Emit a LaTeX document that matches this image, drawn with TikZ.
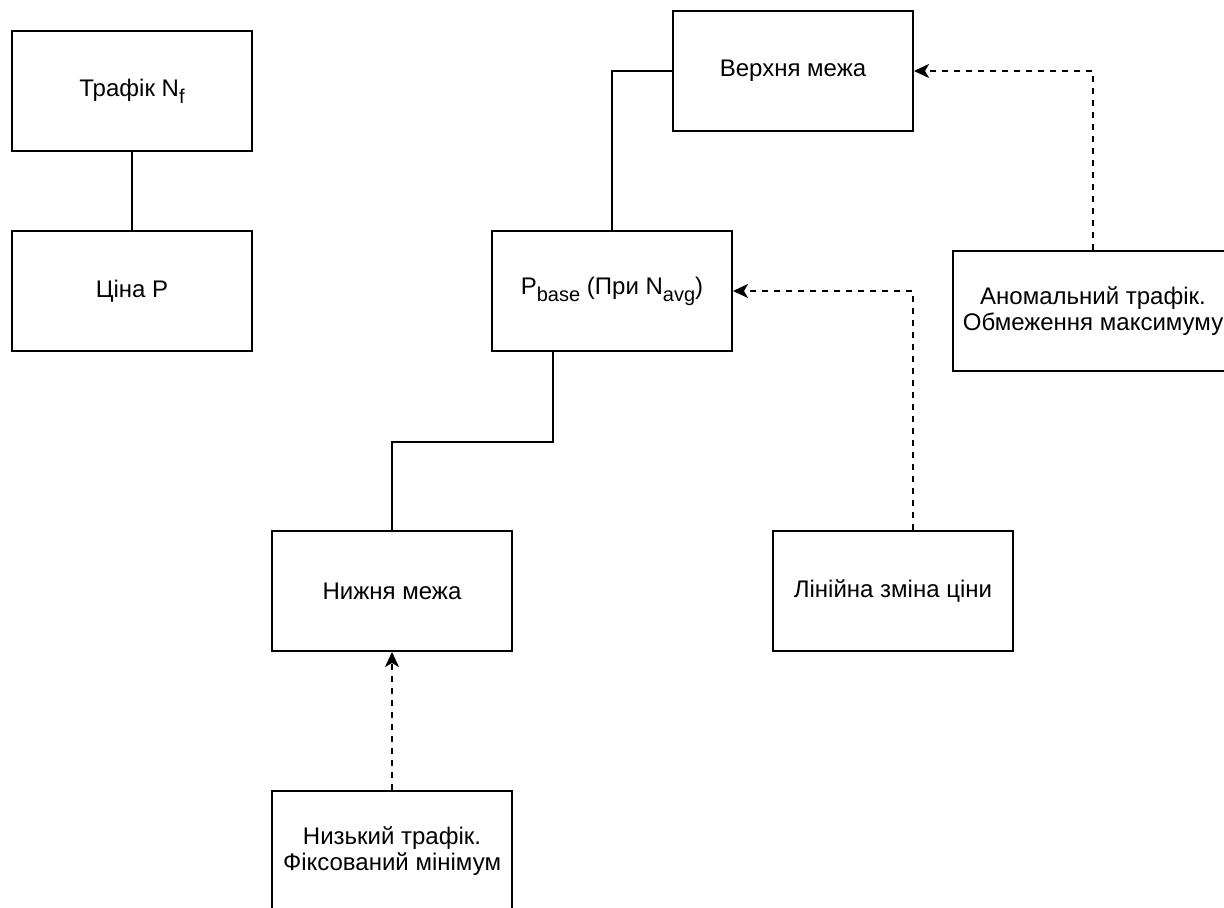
\documentclass[tikz,border=0pt]{standalone}
\usepackage{fontspec}
\setmainfont{Liberation Sans}
\usetikzlibrary{arrows.meta,calc}
\newcommand{\mysub}[1]{\raisebox{-3.5pt}{\fontsize{10pt}{10pt}\selectfont #1}}
\tikzset{
  box/.style={draw=black, line width=1pt, fill=white, minimum width=120pt, minimum height=60pt,
    inner sep=2pt, align=center, font=\fontsize{12pt}{13pt}\selectfont},
  solidline/.style={draw=black, line width=1pt},
  dashedarrow/.style={draw=black, line width=1pt, dash pattern=on 3pt off 3pt,
    -{Stealth[length=7.5pt,width=7pt,inset=2pt]}},
}
\begin{document}
\begin{tikzpicture}[x=0.5pt,y=-0.5pt]
\useasboundingbox (0,0) rectangle (1224,908);
\clip (0,0) rectangle (1224,908);
\fill[white] (0,0) rectangle (1224,908);
% nodes
\node[box] (traf) at (132,91) {Трафік N\mysub{f}};
\node[box] (price) at (132,291) {Ціна P};
\node[box] (upper) at (793,71) {Верхня межа};
\node[box] (base) at (612,291) {P\mysub{base} (При N\mysub{avg})};
\node[box, minimum width=140pt] (anom) at (1093,311) {Аномальний трафік.\\Обмеження максимуму};
\node[box] (lower) at (392,591) {Нижня межа};
\node[box] (linear) at (893,591) {Лінійна зміна ціни};
\node[box] (low) at (392,851) {Низький трафік.\\Фіксований мінімум};
% connectors
\draw[solidline] (traf.south) -- (price.north);
\draw[solidline] (base.north) |- (upper.west);
\draw[solidline] ([xshift=-29.5pt]base.south) -- ++(0,90) -| (lower.north);
\draw[dashedarrow] (anom.north) |- (upper.east);
\draw[dashedarrow] ([xshift=10pt]linear.north) |- (base.east);
\draw[dashedarrow] (low.north) -- (lower.south);
\end{tikzpicture}
\end{document}
